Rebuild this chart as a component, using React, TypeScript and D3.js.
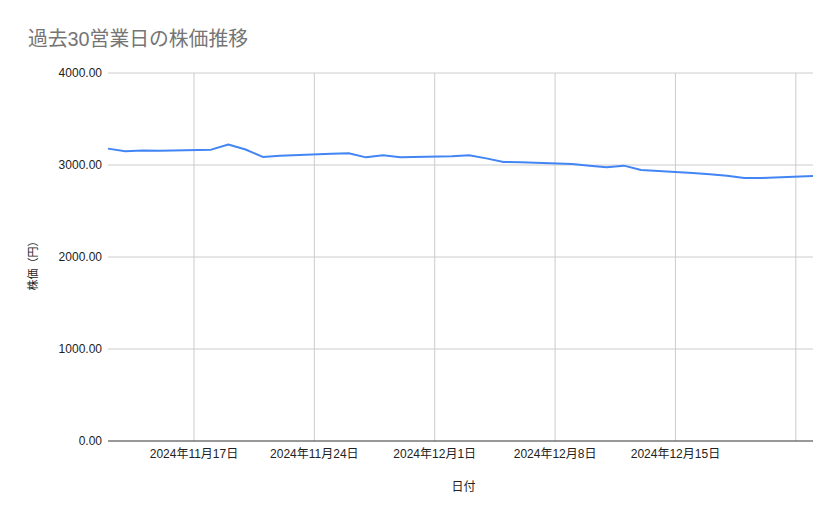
import React, { useEffect, useRef } from "react";
import * as d3 from "d3";

const WIDTH = 839;
const HEIGHT = 519;
const MARGIN = { top: 73, right: 26, bottom: 78, left: 108 };

const TITLE = "過去30営業日の株価推移";
const X_TITLE = "日付";
const Y_TITLE = "株価（円）";

// trading days (Japanese market)
const dates = [
  "2024-11-12", "2024-11-13", "2024-11-14", "2024-11-15",
  "2024-11-18", "2024-11-19", "2024-11-20", "2024-11-21", "2024-11-22",
  "2024-11-25", "2024-11-26", "2024-11-27", "2024-11-28", "2024-11-29",
  "2024-12-02", "2024-12-03", "2024-12-04", "2024-12-05", "2024-12-06",
  "2024-12-09", "2024-12-10", "2024-12-11", "2024-12-12", "2024-12-13",
  "2024-12-16", "2024-12-17", "2024-12-18", "2024-12-19", "2024-12-20",
  "2024-12-23",
];

const prices = [
  3178, 3150, 3157, 3155,
  3167, 3222, 3168, 3088, 3100,
  3122, 3128, 3083, 3105, 3083,
  3094, 3105, 3072, 3033, 3029,
  3011, 2993, 2975, 2993, 2946,
  2913, 2899, 2884, 2859, 2859,
  2880,
];

const X_DOMAIN = ["2024-11-12", "2024-12-23"];
const X_TICKS = ["2024-11-17", "2024-11-24", "2024-12-01", "2024-12-08", "2024-12-15", "2024-12-22"];
const X_TICK_LABELS = ["2024年11月17日", "2024年11月24日", "2024年12月1日", "2024年12月8日", "2024年12月15日", ""];
const Y_TICKS = [0, 1000, 2000, 3000, 4000];

const FONT = "Arial, 'Liberation Sans', 'Noto Sans CJK JP', sans-serif";

function App() {
  const svgRef = useRef<SVGSVGElement>(null);

  useEffect(() => {
    const svg = d3.select(svgRef.current);
    svg.selectAll("*").remove();

    const parse = d3.utcParse("%Y-%m-%d");
    const x = d3
      .scaleUtc()
      .domain(X_DOMAIN.map((d) => parse(d) as Date))
      .range([MARGIN.left, WIDTH - MARGIN.right]);
    const y = d3
      .scaleLinear()
      .domain([0, 4000])
      .range([HEIGHT - MARGIN.bottom, MARGIN.top]);

    const data = dates.map((d, i) => ({ date: parse(d) as Date, value: prices[i] }));

    // horizontal grid
    svg
      .append("g")
      .selectAll("line")
      .data(Y_TICKS.filter((t) => t !== 0))
      .enter()
      .append("line")
      .attr("x1", MARGIN.left)
      .attr("x2", WIDTH - MARGIN.right)
      .attr("y1", (d) => y(d))
      .attr("y2", (d) => y(d))
      .attr("stroke", "#cccccc")
      .attr("stroke-width", 1);

    // vertical grid
    svg
      .append("g")
      .selectAll("line")
      .data(X_TICKS)
      .enter()
      .append("line")
      .attr("x1", (d) => x(parse(d) as Date))
      .attr("x2", (d) => x(parse(d) as Date))
      .attr("y1", MARGIN.top)
      .attr("y2", HEIGHT - MARGIN.bottom)
      .attr("stroke", "#cccccc")
      .attr("stroke-width", 1);

    // baseline
    svg
      .append("line")
      .attr("x1", MARGIN.left)
      .attr("x2", WIDTH - MARGIN.right)
      .attr("y1", y(0))
      .attr("y2", y(0))
      .attr("stroke", "#333333")
      .attr("stroke-width", 1);

    // y labels
    svg
      .append("g")
      .selectAll("text")
      .data(Y_TICKS)
      .enter()
      .append("text")
      .attr("x", MARGIN.left - 6)
      .attr("y", (d) => y(d) + 4)
      .attr("text-anchor", "end")
      .attr("font-size", 12)
      .attr("fill", "#222222")
      .text((d) => d3.format(".2f")(d));

    // x labels
    svg
      .append("g")
      .selectAll("text")
      .data(X_TICKS.map((d, i) => ({ d, label: X_TICK_LABELS[i] })).filter((t) => t.label))
      .enter()
      .append("text")
      .attr("x", (t) => x(parse(t.d) as Date))
      .attr("y", y(0) + 17)
      .attr("text-anchor", "middle")
      .attr("font-size", 12)
      .attr("fill", "#222222")
      .text((t) => t.label);

    // line
    const line = d3
      .line<{ date: Date; value: number }>()
      .x((d) => x(d.date))
      .y((d) => y(d.value));

    svg
      .append("path")
      .datum(data)
      .attr("d", line)
      .attr("fill", "none")
      .attr("stroke", "#4285f4")
      .attr("stroke-width", 2)
      .attr("stroke-linejoin", "round");

    // titles
    svg
      .append("text")
      .attr("x", 28)
      .attr("y", 46)
      .attr("font-size", 20)
      .attr("fill", "#757575")
      .attr("textLength", 220)
      .attr("lengthAdjust", "spacingAndGlyphs")
      .text(TITLE);

    svg
      .append("text")
      .attr("x", (MARGIN.left + WIDTH - MARGIN.right) / 2 + 3)
      .attr("y", 491)
      .attr("text-anchor", "middle")
      .attr("font-size", 12)
      .attr("fill", "#222222")
      .text(X_TITLE);

    svg
      .append("text")
      .attr("transform", `translate(37, ${(MARGIN.top + HEIGHT - MARGIN.bottom) / 2 + 6}) rotate(-90)`)
      .attr("text-anchor", "middle")
      .attr("font-size", 11)
      .attr("fill", "#222222")
      .text(Y_TITLE);
  }, []);

  return (
    <svg
      ref={svgRef}
      width={WIDTH}
      height={HEIGHT}
      style={{ position: "absolute", left: 0, top: 0, fontFamily: FONT, background: "#ffffff" }}
    />
  );
}

export default App;
